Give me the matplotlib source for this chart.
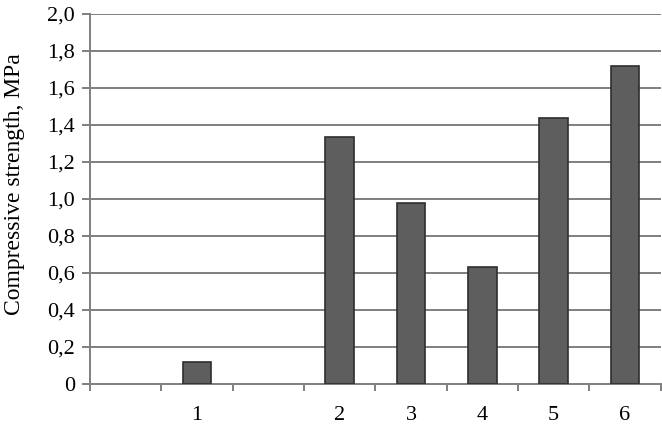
import matplotlib

matplotlib.use("Agg")
import matplotlib.pyplot as plt
import numpy as np

# category slots along x (empty slots are gaps in the original chart)
categories = ["", "1", "", "2", "3", "4", "5", "6"]
strength = [0.0, 0.12, 0.0, 1.335, 0.98, 0.635, 1.44, 1.72]
yticks = [0.0, 0.2, 0.4, 0.6, 0.8, 1.0, 1.2, 1.4, 1.6, 1.8, 2.0]
ylabels = ["0", "0,2", "0,4", "0,6", "0,8", "1,0", "1,2", "1,4", "1,6", "1,8", "2,0"]

plt.rcParams["font.family"] = ["Liberation Serif", "DejaVu Serif"]

fig = plt.figure(figsize=(6.62, 4.25), dpi=100)
ax = fig.add_axes([0.136, 0.0965, 0.862, 0.8705])

x = np.arange(len(categories))
grid_c = "#7f7f7f"
for yv in yticks[1:]:
    ax.axhline(yv, color=grid_c, lw=1.4, zorder=1)

vals = np.array(strength)
mask = vals > 0
ax.bar(x[mask], vals[mask], width=0.4, color="#5e5e5e", edgecolor="#2e2e2e",
       linewidth=1.2, zorder=3)

ax.set_xlim(-0.5, len(categories) - 0.5)
ax.set_ylim(0, 2.0)
ax.set_yticks(yticks)
ax.set_yticklabels(ylabels, fontsize=16)
ax.set_xticks(x)
ax.set_xticklabels(categories, fontsize=16)
ax.set_xticks(np.arange(-0.5, len(categories)), minor=True)
ax.tick_params(axis="x", which="major", length=0, pad=16)
ax.tick_params(axis="x", which="minor", length=5, width=1.4, color=grid_c, direction="out")
ax.tick_params(axis="y", length=6, width=1.4, color=grid_c, direction="out", pad=5)

for s in ["top", "right"]:
    ax.spines[s].set_visible(False)
for s in ["left", "bottom"]:
    ax.spines[s].set_color(grid_c)
    ax.spines[s].set_linewidth(1.4)

ax.set_ylabel("Compressive strength, MPa", fontsize=17)
ax.yaxis.set_label_coords(-0.114, 0.54)

fig.savefig("out.png", dpi=100)
